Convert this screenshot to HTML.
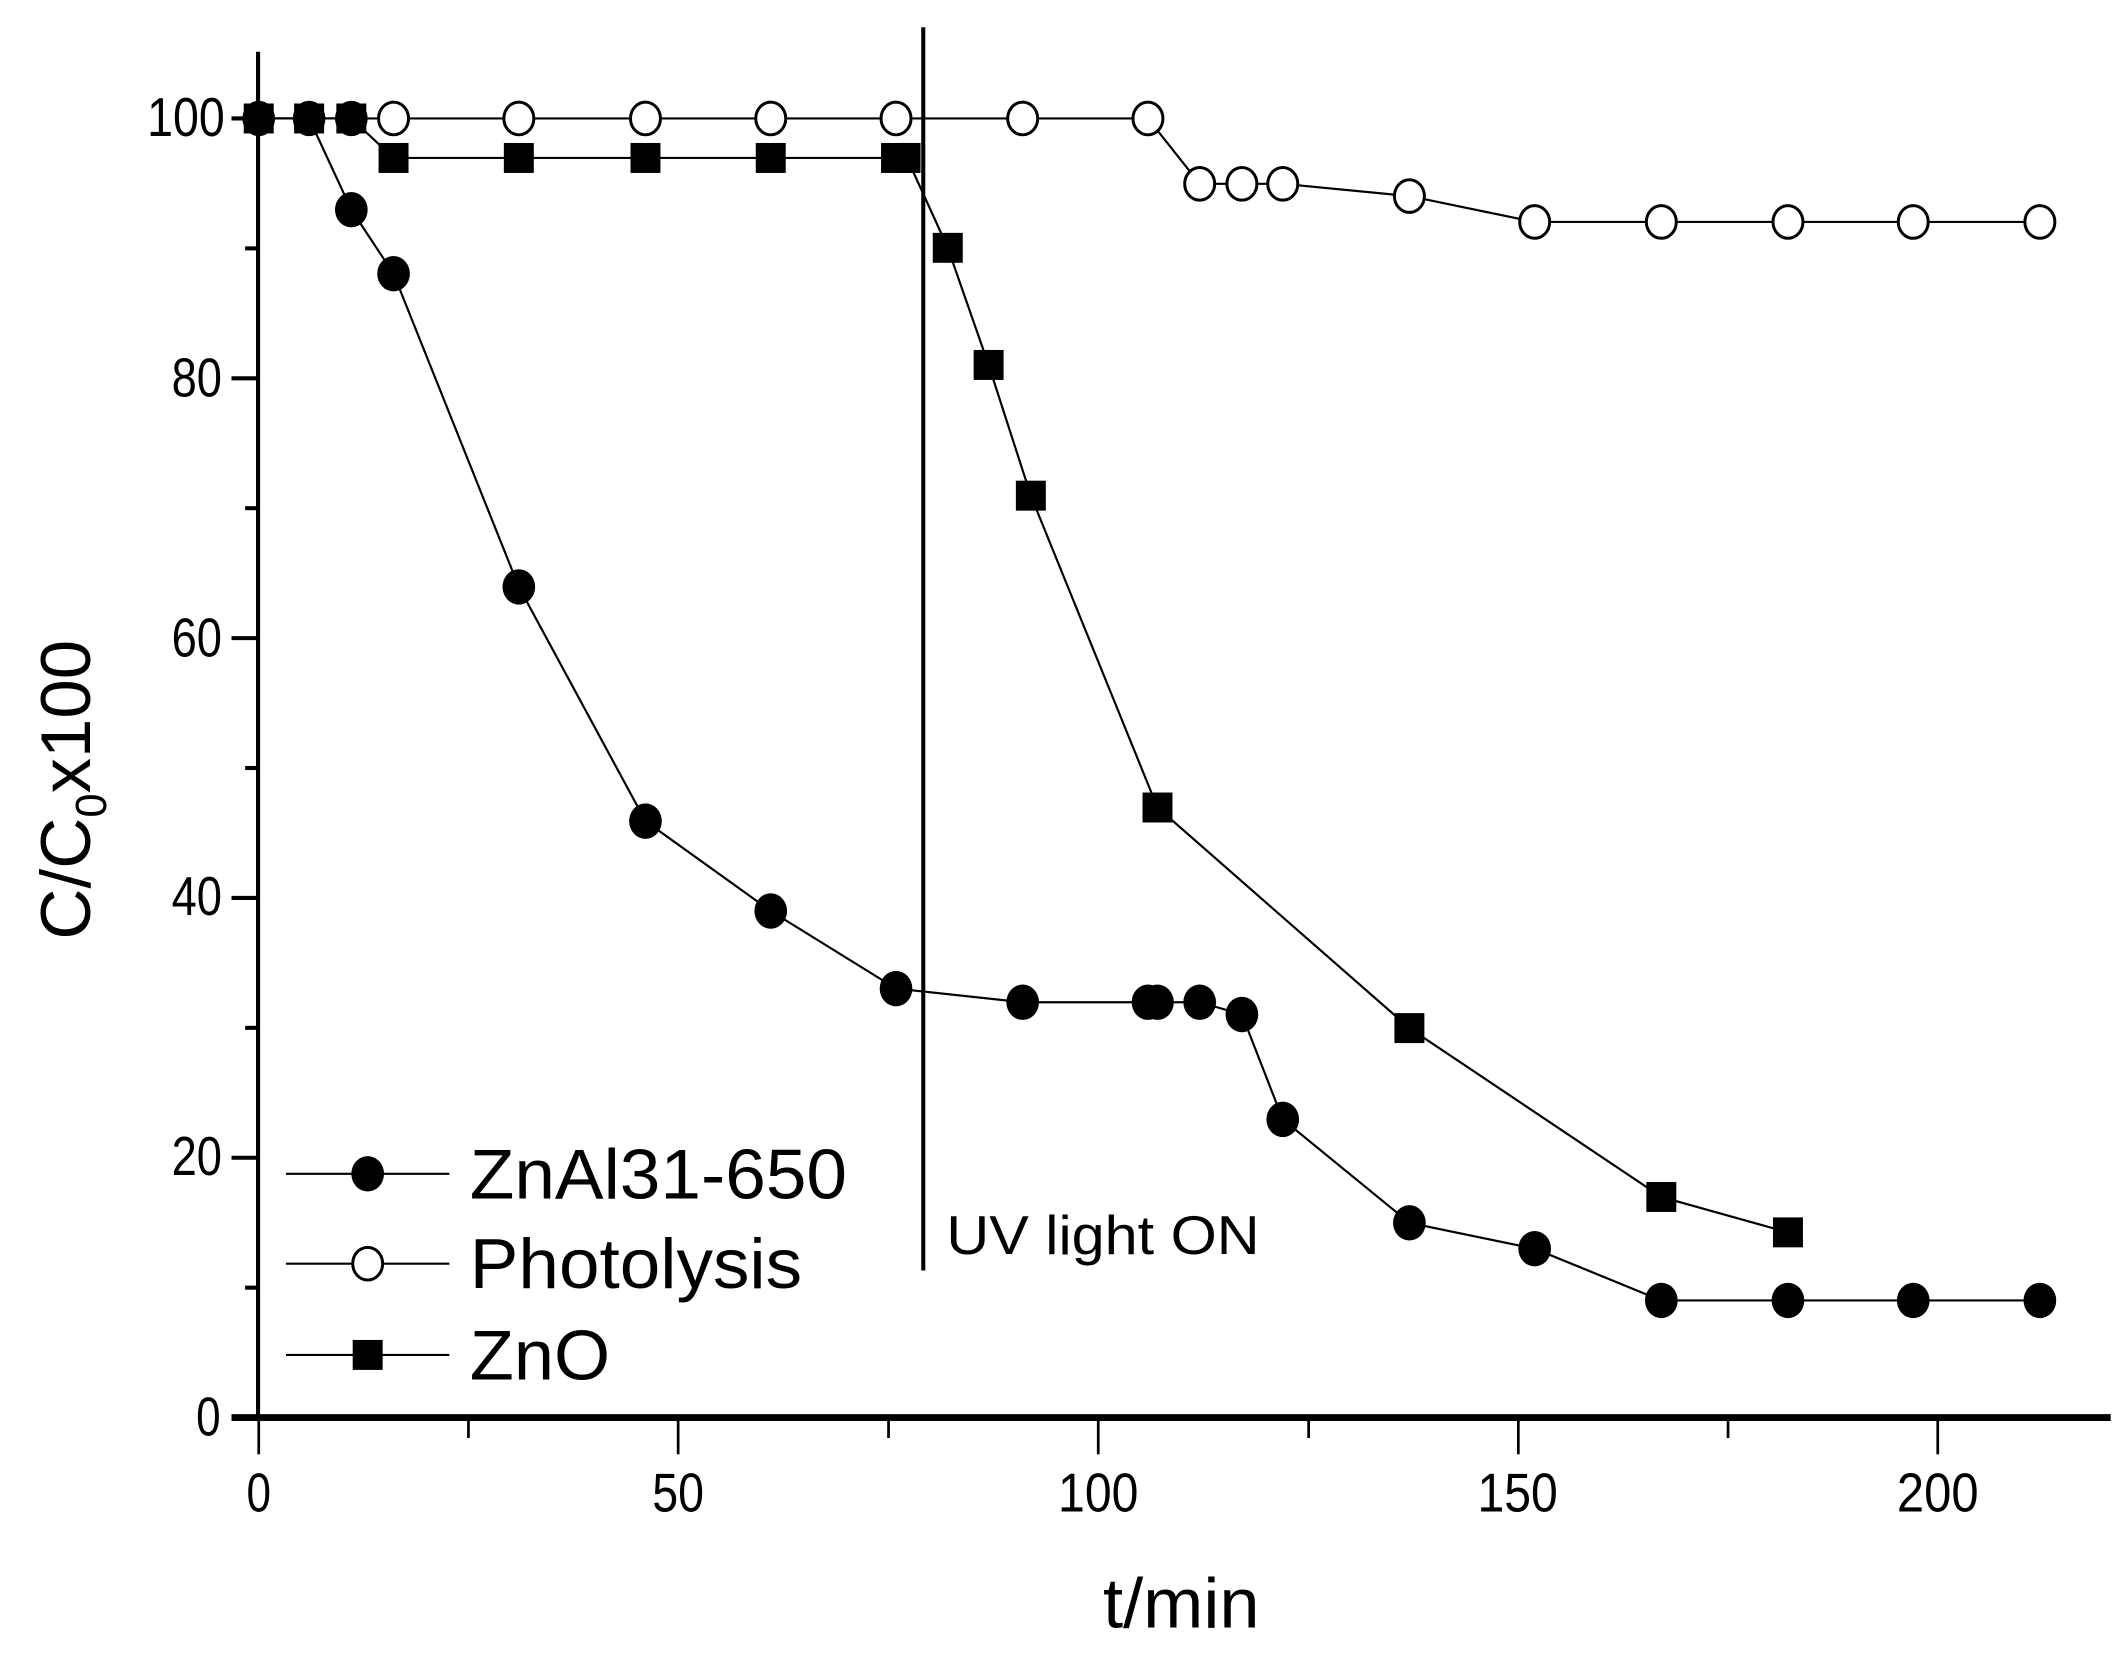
<!DOCTYPE html>
<html><head><meta charset="utf-8"><style>html,body{margin:0;padding:0;background:#fff}svg{display:block}</style></head>
<body>
<svg xmlns="http://www.w3.org/2000/svg" width="2125" height="1653" viewBox="0 0 1560.5 1213.9" font-family="Liberation Sans, Arial, sans-serif">
<rect width="1560.5" height="1213.9" fill="#fff"/>
<g stroke="#000" fill="none">
<line x1="189.5" y1="38" x2="189.5" y2="1043" stroke-width="3"/>
<line x1="170" y1="1041" x2="1550" y2="1041" stroke-width="5"/>
<g stroke-width="3">
<line x1="170" y1="1041" x2="189" y2="1041"/><line x1="170" y1="850.2" x2="189" y2="850.2"/><line x1="170" y1="659.4" x2="189" y2="659.4"/><line x1="170" y1="468.6" x2="189" y2="468.6"/><line x1="170" y1="277.8" x2="189" y2="277.8"/><line x1="170" y1="87" x2="189" y2="87"/>
<line x1="180" y1="945.6" x2="189" y2="945.6"/><line x1="180" y1="754.8" x2="189" y2="754.8"/><line x1="180" y1="564" x2="189" y2="564"/><line x1="180" y1="373.2" x2="189" y2="373.2"/><line x1="180" y1="182.4" x2="189" y2="182.4"/>
</g>
<g stroke-width="2">
<line x1="190" y1="1041" x2="190" y2="1068"/><line x1="498" y1="1041" x2="498" y2="1068"/><line x1="806.5" y1="1041" x2="806.5" y2="1068"/><line x1="1115" y1="1041" x2="1115" y2="1068"/><line x1="1423" y1="1041" x2="1423" y2="1068"/>
<line x1="344" y1="1041" x2="344" y2="1056"/><line x1="652.5" y1="1041" x2="652.5" y2="1056"/><line x1="961" y1="1041" x2="961" y2="1056"/><line x1="1269" y1="1041" x2="1269" y2="1056"/>
</g>
<line x1="678" y1="20" x2="678" y2="933" stroke-width="3"/>
</g>
<g font-size="40" fill="#000">
<text x="144" y="1054" textLength="18" lengthAdjust="spacingAndGlyphs">0</text>
<text x="126" y="863" textLength="37" lengthAdjust="spacingAndGlyphs">20</text>
<text x="126" y="672" textLength="37" lengthAdjust="spacingAndGlyphs">40</text>
<text x="126" y="482" textLength="37" lengthAdjust="spacingAndGlyphs">60</text>
<text x="126" y="291" textLength="37" lengthAdjust="spacingAndGlyphs">80</text>
<text x="108" y="100" textLength="57" lengthAdjust="spacingAndGlyphs">100</text>
</g>
<g font-size="40" fill="#000">
<text x="181" y="1110" textLength="18" lengthAdjust="spacingAndGlyphs">0</text>
<text x="479" y="1110" textLength="38" lengthAdjust="spacingAndGlyphs">50</text>
<text x="777" y="1110" textLength="59" lengthAdjust="spacingAndGlyphs">100</text>
<text x="1085" y="1110" textLength="59" lengthAdjust="spacingAndGlyphs">150</text>
<text x="1393" y="1110" textLength="60" lengthAdjust="spacingAndGlyphs">200</text>
</g>
<text x="810" y="1195" font-size="52" textLength="115" lengthAdjust="spacingAndGlyphs">t/min</text>
<text transform="translate(66,690) rotate(-90)" font-size="52">C/C<tspan font-size="32" dy="12">0</tspan><tspan dy="-12">x100</tspan></text>
<text x="695" y="921" font-size="40" textLength="230" lengthAdjust="spacingAndGlyphs">UV light ON</text>
<g stroke="#000" stroke-width="1.6" fill="none">
<polyline points="190,87 227,87 258,154 289,201 381,431 474,603 566,669 658,726 751,736 843,736 850,736 881,736 912,745 942,822 1035,898 1127,917 1220,955 1313,955 1405,955 1498,955"/>
<polyline points="190,87 227,87 258,87 289,87 381,87 474,87 566,87 658,87 751,87 843,87 881,135 912,135 942,135 1035,144 1127,163 1220,163 1313,163 1405,163 1498,163"/>
<polyline points="190,87 227,87 258,87 289,116 381,116 474,116 566,116 658,116 666,116 696,182 726,268 757,364 850,593 1035,755 1220,879 1313,905"/>
</g>
<g fill="#000">
<rect x="179" y="76" width="22" height="22"/><rect x="216" y="76" width="22" height="22"/><rect x="247" y="76" width="22" height="22"/>
<rect x="278" y="105" width="22" height="22"/><rect x="370" y="105" width="22" height="22"/><rect x="463" y="105" width="22" height="22"/><rect x="555" y="105" width="22" height="22"/><rect x="647" y="105" width="22" height="22"/><rect x="658" y="105" width="18" height="22"/>
<rect x="685" y="171" width="22" height="22"/><rect x="715" y="257" width="22" height="22"/><rect x="746" y="353" width="22" height="22"/><rect x="839" y="582" width="22" height="22"/><rect x="1024" y="744" width="22" height="22"/><rect x="1209" y="868" width="22" height="22"/><rect x="1302" y="894" width="22" height="22"/>
<ellipse cx="190" cy="87" rx="12" ry="13"/><ellipse cx="227" cy="87" rx="12" ry="13"/><ellipse cx="258" cy="87" rx="12" ry="13"/>
<ellipse cx="258" cy="154" rx="12" ry="13"/><ellipse cx="289" cy="201" rx="12" ry="13"/><ellipse cx="381" cy="431" rx="12" ry="13"/><ellipse cx="474" cy="603" rx="12" ry="13"/><ellipse cx="566" cy="669" rx="12" ry="13"/><ellipse cx="658" cy="726" rx="12" ry="13"/><ellipse cx="751" cy="736" rx="12" ry="13"/><ellipse cx="843" cy="736" rx="12" ry="13"/><ellipse cx="850" cy="736" rx="12" ry="13"/><ellipse cx="881" cy="736" rx="12" ry="13"/><ellipse cx="912" cy="745" rx="12" ry="13"/><ellipse cx="942" cy="822" rx="12" ry="13"/><ellipse cx="1035" cy="898" rx="12" ry="13"/><ellipse cx="1127" cy="917" rx="12" ry="13"/><ellipse cx="1220" cy="955" rx="12" ry="13"/><ellipse cx="1313" cy="955" rx="12" ry="13"/><ellipse cx="1405" cy="955" rx="12" ry="13"/><ellipse cx="1498" cy="955" rx="12" ry="13"/>
</g>
<g fill="#fff" stroke="#000" stroke-width="2.2">
<ellipse cx="289" cy="87" rx="11" ry="12"/><ellipse cx="381" cy="87" rx="11" ry="12"/><ellipse cx="474" cy="87" rx="11" ry="12"/><ellipse cx="566" cy="87" rx="11" ry="12"/><ellipse cx="658" cy="87" rx="11" ry="12"/><ellipse cx="751" cy="87" rx="11" ry="12"/><ellipse cx="843" cy="87" rx="11" ry="12"/>
<ellipse cx="881" cy="135" rx="11" ry="12"/><ellipse cx="912" cy="135" rx="11" ry="12"/><ellipse cx="942" cy="135" rx="11" ry="12"/><ellipse cx="1035" cy="144" rx="11" ry="12"/><ellipse cx="1127" cy="163" rx="11" ry="12"/><ellipse cx="1220" cy="163" rx="11" ry="12"/><ellipse cx="1313" cy="163" rx="11" ry="12"/><ellipse cx="1405" cy="163" rx="11" ry="12"/><ellipse cx="1498" cy="163" rx="11" ry="12"/>
</g>
<g stroke="#000" stroke-width="1.6">
<line x1="210" y1="862" x2="330" y2="862"/><line x1="210" y1="928" x2="330" y2="928"/><line x1="210" y1="995" x2="330" y2="995"/>
</g>
<ellipse cx="270" cy="862" rx="12" ry="13" fill="#000"/>
<ellipse cx="270" cy="928" rx="11" ry="12" fill="#fff" stroke="#000" stroke-width="2.2"/>
<rect x="259" y="984" width="22" height="22" fill="#000"/>
<g font-size="52" fill="#000">
<text x="345" y="880" textLength="277" lengthAdjust="spacingAndGlyphs">ZnAl31-650</text>
<text x="345" y="946" textLength="244" lengthAdjust="spacingAndGlyphs">Photolysis</text>
<text x="345" y="1013" textLength="103" lengthAdjust="spacingAndGlyphs">ZnO</text>
</g>
</svg>
</body></html>
